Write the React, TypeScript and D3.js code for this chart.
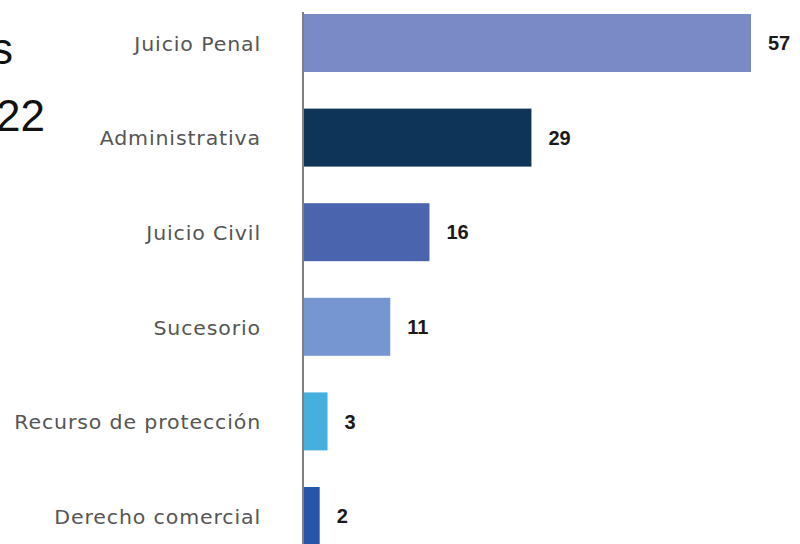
import React from "react";
import * as d3 from "d3";

const categories = [
  "Juicio Penal",
  "Administrativa",
  "Juicio Civil",
  "Sucesorio",
  "Recurso de protección",
  "Derecho comercial",
];
const values = [57, 29, 16, 11, 3, 2];
const colors = ["#7a8ac6", "#0e3558", "#4a64ad", "#7596d0", "#45b0dd", "#2556a8"];
const titleFragments = ["s", "22"];

const W = 800;
const H = 544;

export default function App() {
  const x = d3.scaleLinear().domain([0, 57]).range([304, 751]);
  const y = d3
    .scaleBand<string>()
    .domain(categories)
    .range([14, 545])
    .paddingInner(0.387)
    .paddingOuter(0);
  const bw = y.bandwidth();

  return (
    <svg
      width={W}
      height={H}
      style={{ position: "fixed", left: 0, top: 0, background: "#fff" }}
    >
      <rect x={0} y={0} width={W} height={H} fill="#fff" />
      <text
        x={13}
        y={64}
        textAnchor="end"
        fontFamily="'Liberation Sans', Arial, sans-serif"
        fontSize={44}
        fill="#111"
      >
        {titleFragments[0]}
      </text>
      <text
        x={45}
        y={131}
        textAnchor="end"
        fontFamily="'Liberation Sans', Arial, sans-serif"
        fontSize={44}
        fill="#111"
      >
        {titleFragments[1]}
      </text>
      {categories.map((c, i) => {
        const yc = (y(c) as number) + bw / 2;
        return (
          <g key={c}>
            <rect
              x={x(0)}
              y={y(c)}
              width={x(values[i]) - x(0)}
              height={bw}
              fill={colors[i]}
            />
            <g transform={`translate(261,${yc + 1}) scale(1.08,1)`}>
              <text
                x={0}
                y={0}
                dy="0.36em"
                textAnchor="end"
                fontFamily="'DejaVu Sans', sans-serif"
                fontSize={19}
                letterSpacing={0.8}
                fill="#555"
              >
                {c}
              </text>
            </g>
            <text
              x={x(values[i]) + 17}
              y={yc}
              dy="0.36em"
              fontFamily="'Liberation Sans', Arial, sans-serif"
              fontWeight="bold"
              fontSize={20}
              fill="#1a1a1a"
            >
              {values[i]}
            </text>
          </g>
        );
      })}
      <line x1={303} x2={303} y1={12} y2={H} stroke="#555" strokeWidth={1.5} />
    </svg>
  );
}
